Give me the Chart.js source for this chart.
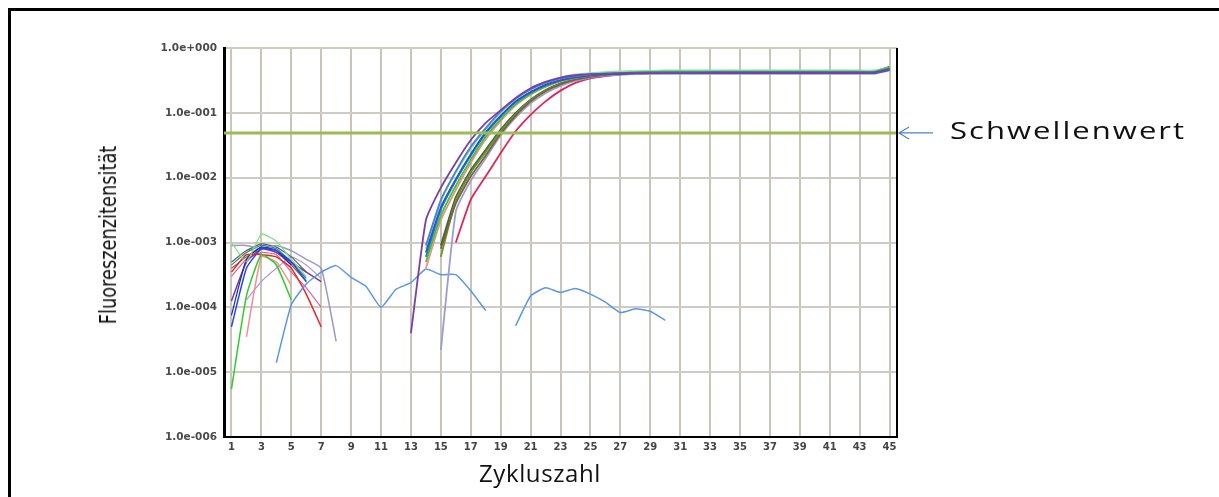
<!DOCTYPE html>
<html>
<head>
<meta charset="utf-8">
<script src="https://cdn.jsdelivr.net/npm/chart.js@4.4.1/dist/chart.umd.min.js"></script>
<style>
  html, body { margin:0; padding:0; background:#fff; }
  #wrap { position:relative; width:1219px; height:497px; overflow:hidden; }
  #frame { position:absolute; left:8px; top:8px; width:1300px; height:600px;
           border-left:3px solid #000; border-top:3px solid #000; }
  #chart { position:absolute; left:0; top:0; }
  .lbl { position:absolute; white-space:nowrap; color:#111; }
  #ytitle { left:108px; top:235px; font:23px 'Liberation Sans Narrow','DejaVu Sans Condensed',sans-serif;
            transform:translate(-50%,-50%) rotate(-90deg) scaleX(0.86); }
  #xtitle { left:540px; top:456px; font:24px 'Open Sans',sans-serif; letter-spacing:0.6px; transform:translateX(-50%); }
  #thrText { left:950px; top:114px; font:23px 'Open Sans',sans-serif; letter-spacing:1.5px;
             transform-origin:0 0; transform:scaleX(1.35); }
</style>
</head>
<body>
<div id="wrap">
  <div id="frame"></div>
  <canvas id="chart" width="1219" height="497"></canvas>
  <div class="lbl" id="ytitle">Fluoreszenzitensität</div>
  <div class="lbl" id="xtitle">Zykluszahl</div>
  <div class="lbl" id="thrText">Schwellenwert</div>
</div>
<script>
// axis ticks
const xTicks = [1,3,5,7,9,11,13,15,17,19,21,23,25,27,29,31,33,35,37,39,41,43,45];
const yTicks = [1e-6, 1e-5, 1e-4, 1e-3, 1e-2, 1e-1, 1];
const yTickLabels = ['1.0e-006','1.0e-005','1.0e-004','1.0e-003','1.0e-002','1.0e-001','1.0e+000'];

const threshold = 0.049;

// amplification curves (first value = start cycle)
const ampPurple = [13,
  4e-5, 2.2e-3, 7e-3, 0.017, 0.038, 0.07, 0.11, 0.17, 0.24, 0.30,
  0.35, 0.38, 0.395, 0.40, 0.405, 0.41, 0.41, 0.41, 0.41, 0.41,
  0.415, 0.415, 0.415, 0.415, 0.415, 0.415, 0.415, 0.415, 0.415, 0.415, 0.415, 0.42, 0.47];
const ampSteel = [14,
  9e-4, 4.5e-3, 0.0125, 0.03, 0.058, 0.105, 0.165, 0.23, 0.29, 0.34,
  0.37, 0.39, 0.405, 0.41, 0.415, 0.42, 0.42, 0.42, 0.42, 0.42,
  0.42, 0.42, 0.42, 0.42, 0.42, 0.42, 0.42, 0.42, 0.42, 0.42, 0.42, 0.47];
const ampBlue = [14,
  7e-4, 3.5e-3, 9.5e-3, 0.023, 0.05, 0.09, 0.15, 0.21, 0.27, 0.32,
  0.355, 0.38, 0.395, 0.40, 0.405, 0.41, 0.41, 0.41, 0.41, 0.41,
  0.41, 0.41, 0.41, 0.41, 0.41, 0.41, 0.41, 0.41, 0.41, 0.41, 0.41, 0.46];
const ampTeal = [14,
  6e-4, 3.2e-3, 9e-3, 0.022, 0.048, 0.088, 0.145, 0.205, 0.265, 0.315,
  0.35, 0.375, 0.39, 0.40, 0.41, 0.415, 0.42, 0.42, 0.42, 0.42,
  0.42, 0.42, 0.42, 0.42, 0.42, 0.42, 0.42, 0.42, 0.42, 0.42, 0.42, 0.48];
const ampGreen = [14,
  5e-4, 2.6e-3, 7.5e-3, 0.019, 0.043, 0.08, 0.135, 0.195, 0.255, 0.31,
  0.35, 0.38, 0.40, 0.41, 0.42, 0.425, 0.43, 0.43, 0.43, 0.43,
  0.43, 0.43, 0.43, 0.43, 0.43, 0.43, 0.43, 0.43, 0.43, 0.43, 0.43, 0.50];
const ampLightGreen = [14,
  8e-4, 4.5e-3, 0.012, 0.028, 0.056, 0.10, 0.165, 0.235, 0.30, 0.35,
  0.39, 0.41, 0.425, 0.435, 0.44, 0.445, 0.45, 0.45, 0.45, 0.45,
  0.45, 0.45, 0.45, 0.45, 0.45, 0.45, 0.45, 0.45, 0.45, 0.45, 0.45, 0.50];
const ampSalmon = [14,
  4e-4, 2.2e-3, 6.5e-3, 0.017, 0.039, 0.075, 0.13, 0.19, 0.25, 0.305,
  0.345, 0.375, 0.395, 0.405, 0.41, 0.415, 0.42, 0.42, 0.42, 0.42,
  0.42, 0.42, 0.42, 0.42, 0.42, 0.42, 0.42, 0.42, 0.42, 0.42, 0.42, 0.47];
const ampBrown = [15,
  8e-4, 4e-3, 0.0105, 0.022, 0.048, 0.09, 0.15, 0.215, 0.275, 0.325,
  0.36, 0.385, 0.40, 0.41, 0.415, 0.42, 0.42, 0.42, 0.42, 0.42,
  0.42, 0.42, 0.42, 0.42, 0.42, 0.42, 0.42, 0.42, 0.42, 0.42, 0.48];
const ampOlive = [15,
  6e-4, 4.5e-3, 0.012, 0.025, 0.052, 0.095, 0.155, 0.22, 0.28, 0.33,
  0.365, 0.39, 0.405, 0.415, 0.42, 0.425, 0.43, 0.43, 0.43, 0.43,
  0.43, 0.43, 0.43, 0.43, 0.43, 0.43, 0.43, 0.43, 0.43, 0.43, 0.49];
const ampDarkGreen = [15,
  9e-4, 5e-3, 0.013, 0.027, 0.055, 0.10, 0.16, 0.225, 0.285, 0.335,
  0.37, 0.395, 0.41, 0.42, 0.43, 0.435, 0.44, 0.44, 0.44, 0.44,
  0.44, 0.44, 0.44, 0.44, 0.44, 0.44, 0.44, 0.44, 0.44, 0.44, 0.51];
const ampLavender = [15,
  2.2e-5, 3e-3, 9e-3, 0.02, 0.045, 0.085, 0.14, 0.20, 0.26, 0.31,
  0.35, 0.375, 0.39, 0.395, 0.40, 0.40, 0.40, 0.40, 0.40, 0.40,
  0.40, 0.40, 0.40, 0.40, 0.40, 0.40, 0.40, 0.40, 0.40, 0.40, 0.45];
const ampRed = [16,
  1e-3, 4.6e-3, 0.0105, 0.024, 0.052, 0.093, 0.15, 0.22, 0.29, 0.34,
  0.37, 0.39, 0.40, 0.405, 0.41, 0.41, 0.41, 0.41, 0.41, 0.41,
  0.41, 0.41, 0.41, 0.41, 0.41, 0.41, 0.41, 0.41, 0.41, 0.46];

// early background noise (first value = start cycle)
const noiseLightGreen = [1, 1.0e-3, 5e-4, 1.35e-3, 1.05e-3, 5.5e-4, 3e-4];
const noiseGreen      = [1, 5.5e-6, 1.5e-4, 6.5e-4, 4.5e-4, 1.3e-4];
const noiseRed        = [1, 3.5e-4, 6.5e-4, 6.5e-4, 6.0e-4, 4.0e-4, 1.6e-4, 5e-5];
const noiseSalmon     = [2, 3.5e-5, 6e-4, 5e-4, 2.2e-4];
const noiseBlue       = [1, 5e-5, 4e-4, 8e-4, 7.5e-4, 5e-4, 2.5e-4];
const noiseNavy       = [1, 7.5e-5, 5.5e-4, 8.5e-4, 7.5e-4, 4.5e-4];
const noisePurple     = [1, 1.25e-4, 5e-4, 8e-4, 7e-4, 5e-4, 3.5e-4, 2.5e-4];
const noiseLavender   = [1, 9e-4, 9e-4, 8e-4, 9e-4, 7.5e-4, 5.5e-4, 4e-4, 3e-5];
const noiseBrown      = [1, 4e-4, 6e-4, 8.5e-4, 7e-4, 4.5e-4, 2.5e-4];
const noiseTeal       = [1, 4.5e-4, 7e-4, 9e-4, 8e-4, 5e-4, 2.8e-4];
const noisePink       = [1, 3e-4, 5.5e-4, 7e-4, 6.5e-4, 3.5e-4, 2e-4, 1e-4];
const noiseGray       = [1, 5e-4, 7.5e-4, 9.5e-4, 8.5e-4, 6e-4, 3.5e-4];
const noiseLilac      = [2, 1.3e-4, 2.5e-4, 4e-4, 6e-4, 4.5e-4, 2.8e-4];

// the long flat blue trace (null = gap at cycle 19)
const blankTrace = [4,
  1.4e-5, 1.1e-4, 2.3e-4, 3.5e-4, 4.4e-4, 2.9e-4, 2.1e-4, 1.0e-4, 1.9e-4, 2.4e-4,
  3.9e-4, 3.2e-4, 3.2e-4, 1.8e-4, 8.9e-5, null,
  5.2e-5, 1.5e-4, 2.0e-4, 1.7e-4, 1.95e-4, 1.6e-4, 1.2e-4, 8.3e-5, 9.5e-5, 8.7e-5, 6.3e-5];

function pts(arr) {
  const start = arr[0];
  return arr.slice(1).map(function(v, i){ return { x: start + i, y: v }; });
}
function line(arr, color, width) {
  return { data: pts(arr), borderColor: color, borderWidth: width, pointRadius: 0,
           tension: 0.15, spanGaps: false, fill: false };
}

const datasets = [
  { data: [{x:0.3, y:threshold}, {x:45.5, y:threshold}], borderColor:'#9bbb59', borderWidth:3, pointRadius:0 },
  line(ampPurple, '#7a3fa0', 1.8),
  line(ampSteel, '#4a80d4', 1.8),
  line(ampBlue, '#2b4fe0', 1.8),
  line(ampTeal, '#1e8c8c', 1.8),
  line(ampGreen, '#3cc83c', 1.8),
  line(ampLightGreen, '#8fe08f', 1.8),
  line(ampSalmon, '#f28a8a', 1.8),
  line(ampBrown, '#7d6234', 1.8),
  line(ampOlive, '#6f8f34', 1.8),
  line(ampDarkGreen, '#2f6e2f', 1.8),
  line(ampLavender, '#9c9cd4', 1.8),
  line(ampRed, '#e0245e', 1.8),
  line(blankTrace, '#5a96e8', 1.5),
  line(noiseLightGreen, '#7fdc7f', 1.2),
  line(noiseGreen, '#2ecc2e', 1.5),
  line(noiseRed, '#e82828', 1.5),
  line(noiseSalmon, '#f49090', 1.5),
  line(noiseBlue, '#2246ee', 1.5),
  line(noiseNavy, '#1a2aa8', 1.2),
  line(noisePurple, '#7a3a9a', 1.5),
  line(noiseLavender, '#9898c8', 1.5),
  line(noiseBrown, '#8b6b3a', 1.2),
  line(noiseTeal, '#2a8a8a', 1.2),
  line(noisePink, '#e060a0', 1.2),
  line(noiseGray, '#556655', 1.2),
  line(noiseLilac, '#b498d4', 1.2)
];

// right plot border and the arrow pointing at the threshold
const extras = {
  id: 'extras',
  afterDraw(chart) {
    const ctx = chart.ctx, a = chart.chartArea;
    ctx.save();
    ctx.strokeStyle = '#000';
    ctx.lineWidth = 2;
    ctx.beginPath();
    ctx.moveTo(a.right, a.top);
    ctx.lineTo(a.right, a.bottom + 1);
    ctx.stroke();
    const y = chart.scales.y.getPixelForValue(threshold);
    ctx.strokeStyle = '#4f81c9';
    ctx.lineWidth = 1.2;
    ctx.beginPath();
    ctx.moveTo(a.right + 2, y);
    ctx.lineTo(a.right + 36, y);
    ctx.moveTo(a.right + 12, y - 6);
    ctx.lineTo(a.right + 2, y);
    ctx.lineTo(a.right + 12, y + 6);
    ctx.stroke();
    ctx.restore();
  }
};

const tickFont = { family: 'DejaVu Sans', size: 10.5, weight: 'bold' };

new Chart(document.getElementById('chart'), {
  type: 'line',
  data: { datasets: datasets },
  options: {
    responsive: false,
    animation: false,
    layout: { padding: { left: 0, top: 48, right: 322, bottom: 0 } },
    plugins: { legend: { display: false }, tooltip: { enabled: false } },
    scales: {
      x: {
        type: 'linear', min: 0.5, max: 45.5,
        afterBuildTicks: function(s){ s.ticks = xTicks.map(function(v){ return { value: v }; }); },
        afterFit: function(s){ s.height = 60; },
        grid: { color: '#c9c5b9', lineWidth: 2, drawTicks: false },
        border: { color: '#000', width: 2 },
        ticks: { font: { family: 'DejaVu Sans', size: 10, weight: 'bold' }, color: '#444', padding: 4, maxRotation: 0, autoSkip: false }
      },
      y: {
        type: 'logarithmic', min: 1e-6, max: 1,
        afterBuildTicks: function(s){ s.ticks = yTicks.map(function(v){ return { value: v }; }); },
        afterFit: function(s){ s.width = 224; },
        grid: { color: '#cfcbc0', lineWidth: 2, drawTicks: false },
        border: { color: '#000', width: 3 },
        ticks: {
          font: tickFont, color: '#4a4a4a', padding: 7, autoSkip: false,
          callback: function(v){ const i = yTicks.indexOf(v); return i >= 0 ? yTickLabels[i] : ''; }
        }
      }
    }
  },
  plugins: [extras]
});
</script>
</body>
</html>
